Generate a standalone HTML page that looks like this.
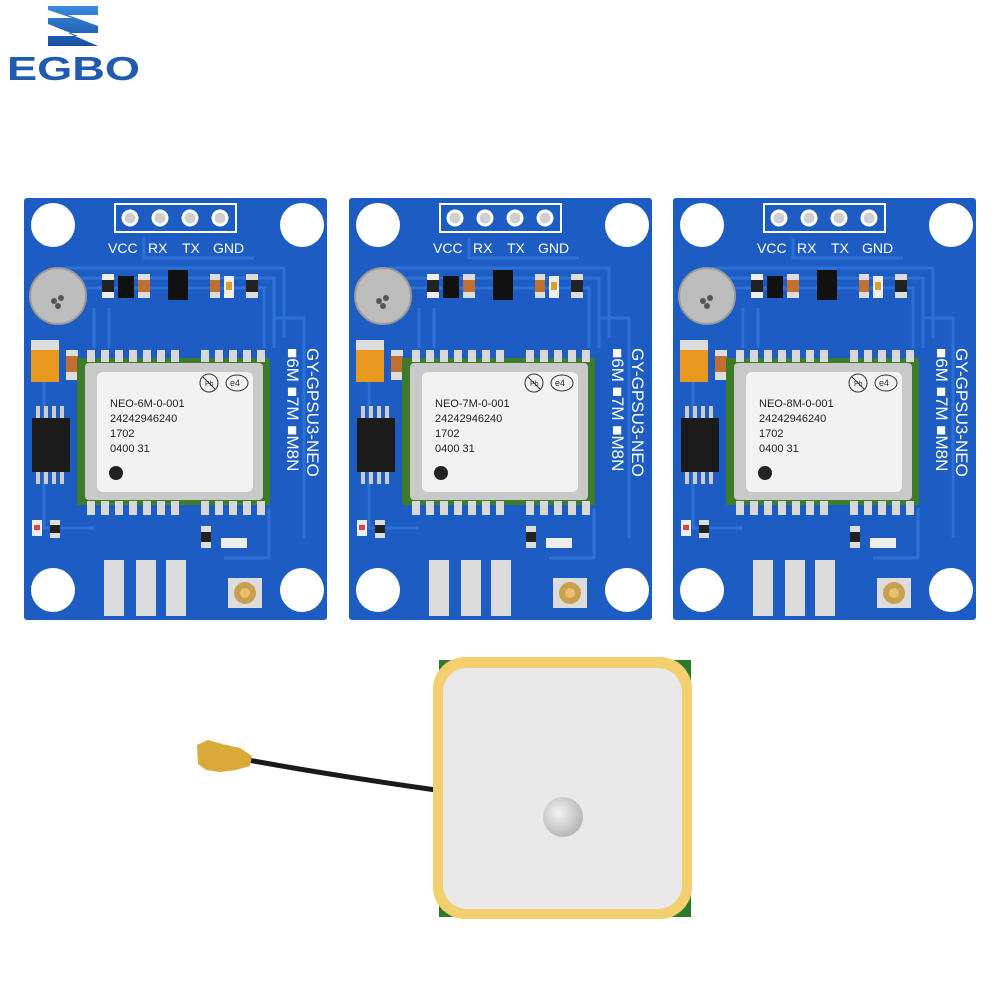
<!DOCTYPE html>
<html><head><meta charset="utf-8"><style>
html,body{margin:0;padding:0;background:#fff;width:1000px;height:1000px;overflow:hidden}
svg{display:block}
.lbl{font-family:"Liberation Sans",sans-serif;fill:#fff;font-size:14px}
.neo{font-family:"Liberation Sans",sans-serif;fill:#222;font-size:11px}
.vt{font-family:"Liberation Sans",sans-serif;fill:#fff;font-size:17px}
</style></head><body>
<svg width="1000" height="1000" viewBox="0 0 1000 1000" xmlns="http://www.w3.org/2000/svg">
<defs>
<linearGradient id="ag" x1="0" y1="0" x2="0" y2="1"><stop offset="0" stop-color="#3a8be0"/><stop offset="1" stop-color="#1a4fa0"/></linearGradient>
<radialGradient id="dot" cx="0.4" cy="0.4" r="0.6"><stop offset="0" stop-color="#f4f4f4"/><stop offset="1" stop-color="#b8b8b8"/></radialGradient>
<g id="board">
<rect x="0" y="0" width="303" height="422" rx="3" fill="#1d5cc2"/>
<g stroke="#2c71d6" stroke-width="3" fill="none">
<path d="M40 70 H260 V140"/><path d="M50 80 H250 V150"/><path d="M60 90 H240 V150"/>
<path d="M20 150 V330 H70"/><path d="M245 310 V360 H200"/><path d="M250 120 H280 V340"/>
<path d="M120 40 V60 H230"/><path d="M70 110 V150"/><path d="M85 110 V150"/>
</g>
<circle cx="29" cy="27" r="22" fill="#fff"/><circle cx="278" cy="27" r="22" fill="#fff"/>
<circle cx="29" cy="392" r="22" fill="#fff"/><circle cx="278" cy="392" r="22" fill="#fff"/>
<rect x="91" y="6" width="121" height="28" fill="none" stroke="#fff" stroke-width="2"/>
<g fill="#e8e8e8" stroke="#fff" stroke-width="3"><circle cx="106" cy="20" r="7" fill="#d0d0d0"/><circle cx="136" cy="20" r="7" fill="#d0d0d0"/><circle cx="166" cy="20" r="7" fill="#d0d0d0"/><circle cx="196" cy="20" r="7" fill="#d0d0d0"/></g>
<text class="lbl" x="84" y="55">VCC</text><text class="lbl" x="124" y="55">RX</text><text class="lbl" x="158" y="55">TX</text><text class="lbl" x="189" y="55">GND</text>
<circle cx="34" cy="98" r="28" fill="#bdbdbd" stroke="#9a9a9a" stroke-width="2"/>
<circle cx="30" cy="103" r="3" fill="#555"/><circle cx="37" cy="100" r="3" fill="#555"/><circle cx="34" cy="108" r="3" fill="#555"/>
<rect x="78" y="76" width="12" height="24" fill="#eee"/><rect x="78" y="82" width="12" height="12" fill="#222"/>
<rect x="94" y="78" width="16" height="22" fill="#111"/>
<rect x="114" y="76" width="12" height="24" fill="#ddd"/><rect x="114" y="82" width="12" height="12" fill="#c07030"/>
<rect x="144" y="72" width="20" height="30" fill="#111"/>
<rect x="186" y="76" width="10" height="24" fill="#ddd"/><rect x="186" y="82" width="10" height="12" fill="#c07030"/>
<rect x="200" y="78" width="10" height="22" fill="#eee"/><rect x="202" y="84" width="6" height="8" fill="#d9a030"/>
<rect x="222" y="76" width="12" height="24" fill="#ddd"/><rect x="222" y="82" width="12" height="12" fill="#222"/>
<rect x="7" y="142" width="28" height="42" fill="#e89a20"/><rect x="7" y="142" width="28" height="10" fill="#ddd"/>
<rect x="42" y="152" width="12" height="30" fill="#ddd"/><rect x="42" y="158" width="12" height="16" fill="#c07030"/>
<rect x="8" y="220" width="38" height="54" fill="#1a1a1a"/>
<g fill="#ccc"><rect x="12" y="208" width="4" height="12"/><rect x="20" y="208" width="4" height="12"/><rect x="28" y="208" width="4" height="12"/><rect x="36" y="208" width="4" height="12"/><rect x="12" y="274" width="4" height="12"/><rect x="20" y="274" width="4" height="12"/><rect x="28" y="274" width="4" height="12"/><rect x="36" y="274" width="4" height="12"/></g>
<rect x="53" y="160" width="193" height="147" fill="#3d7a2a"/>
<g fill="#d8d8d8"><rect x="63" y="152" width="8" height="12"/><rect x="77" y="152" width="8" height="12"/><rect x="91" y="152" width="8" height="12"/><rect x="105" y="152" width="8" height="12"/><rect x="119" y="152" width="8" height="12"/><rect x="133" y="152" width="8" height="12"/><rect x="147" y="152" width="8" height="12"/><rect x="177" y="152" width="8" height="12"/><rect x="191" y="152" width="8" height="12"/><rect x="205" y="152" width="8" height="12"/><rect x="219" y="152" width="8" height="12"/><rect x="233" y="152" width="8" height="12"/>
<rect x="63" y="303" width="8" height="14"/><rect x="77" y="303" width="8" height="14"/><rect x="91" y="303" width="8" height="14"/><rect x="105" y="303" width="8" height="14"/><rect x="119" y="303" width="8" height="14"/><rect x="133" y="303" width="8" height="14"/><rect x="147" y="303" width="8" height="14"/><rect x="177" y="303" width="8" height="14"/><rect x="191" y="303" width="8" height="14"/><rect x="205" y="303" width="8" height="14"/><rect x="219" y="303" width="8" height="14"/><rect x="233" y="303" width="8" height="14"/></g>
<rect x="61" y="165" width="178" height="137" rx="4" fill="#c9c9c9"/>
<rect x="73" y="174" width="156" height="120" rx="6" fill="#f2f2f2"/>
<circle cx="185" cy="185" r="9" fill="none" stroke="#333" stroke-width="1"/><line x1="179" y1="179" x2="191" y2="191" stroke="#333"/>
<text x="181" y="188" font-family="Liberation Sans" font-size="7" fill="#333">Pb</text>
<ellipse cx="213" cy="185" rx="11" ry="8" fill="none" stroke="#333"/><text x="206" y="188" font-family="Liberation Sans" font-size="9" fill="#333">e4</text>
<circle cx="92" cy="275" r="7" fill="#222"/>
<rect x="8" y="322" width="10" height="16" fill="#eee"/><rect x="10" y="327" width="6" height="5" fill="#d44"/>
<rect x="26" y="322" width="10" height="18" fill="#ddd"/><rect x="26" y="327" width="10" height="8" fill="#222"/>
<rect x="177" y="328" width="10" height="22" fill="#ddd"/><rect x="177" y="334" width="10" height="10" fill="#222"/>
<rect x="197" y="340" width="26" height="10" fill="#eee"/>
<g fill="#dcdcdc"><rect x="80" y="362" width="20" height="56"/><rect x="112" y="362" width="20" height="56"/><rect x="142" y="362" width="20" height="56"/></g>
<rect x="204" y="380" width="34" height="30" fill="#ddd"/><circle cx="221" cy="395" r="11" fill="#c9a050"/><circle cx="221" cy="395" r="5" fill="#e8c070"/>
</g>
</defs>

<!-- logo -->
<polygon points="48,6 98,6 98,15 68,15 98,26 98,33 68,33 98,46 48,46 48,36 78,36 48,24 48,18 72,18 48,10" fill="url(#ag)"/>
<text x="7" y="80" font-family="Liberation Sans" font-weight="bold" font-size="33" fill="#1f5cb0" textLength="133" lengthAdjust="spacingAndGlyphs">EGBO</text>

<g transform="translate(24,198)"><use href="#board"/>
<text class="neo" x="86" y="209">NEO-6M-0-001</text><text class="neo" x="86" y="224">24242946240</text><text class="neo" x="86" y="239">1702</text><text class="neo" x="86" y="254">0400  31</text>
<text class="vt" transform="translate(283,150) rotate(90)">GY-GPSU3-NEO</text>
<text class="vt" transform="translate(263,150) rotate(90)">■6M ■7M ■M8N</text></g>
<g transform="translate(349,198)"><use href="#board"/>
<text class="neo" x="86" y="209">NEO-7M-0-001</text><text class="neo" x="86" y="224">24242946240</text><text class="neo" x="86" y="239">1702</text><text class="neo" x="86" y="254">0400  31</text>
<text class="vt" transform="translate(283,150) rotate(90)">GY-GPSU3-NEO</text>
<text class="vt" transform="translate(263,150) rotate(90)">■6M ■7M ■M8N</text></g>
<g transform="translate(673,198)"><use href="#board"/>
<text class="neo" x="86" y="209">NEO-8M-0-001</text><text class="neo" x="86" y="224">24242946240</text><text class="neo" x="86" y="239">1702</text><text class="neo" x="86" y="254">0400  31</text>
<text class="vt" transform="translate(283,150) rotate(90)">GY-GPSU3-NEO</text>
<text class="vt" transform="translate(263,150) rotate(90)">■6M ■7M ■M8N</text></g>

<!-- antenna -->
<path d="M248 760 Q330 775 436 790" stroke="#1a1a1a" stroke-width="5" fill="none"/>
<path d="M197 745 L208 740 L222 744 L240 748 L252 756 L250 766 L236 770 L220 772 L206 770 L198 764 Z" fill="#d9a93a"/>
<rect x="439" y="660" width="252" height="257" fill="#2f7a2a"/>
<rect x="433" y="657" width="259" height="262" rx="32" fill="#f3cf70"/>
<rect x="443" y="668" width="239" height="241" rx="24" fill="#e9e9e9"/>
<circle cx="563" cy="817" r="20" fill="url(#dot)"/>
</svg>
</body></html>
